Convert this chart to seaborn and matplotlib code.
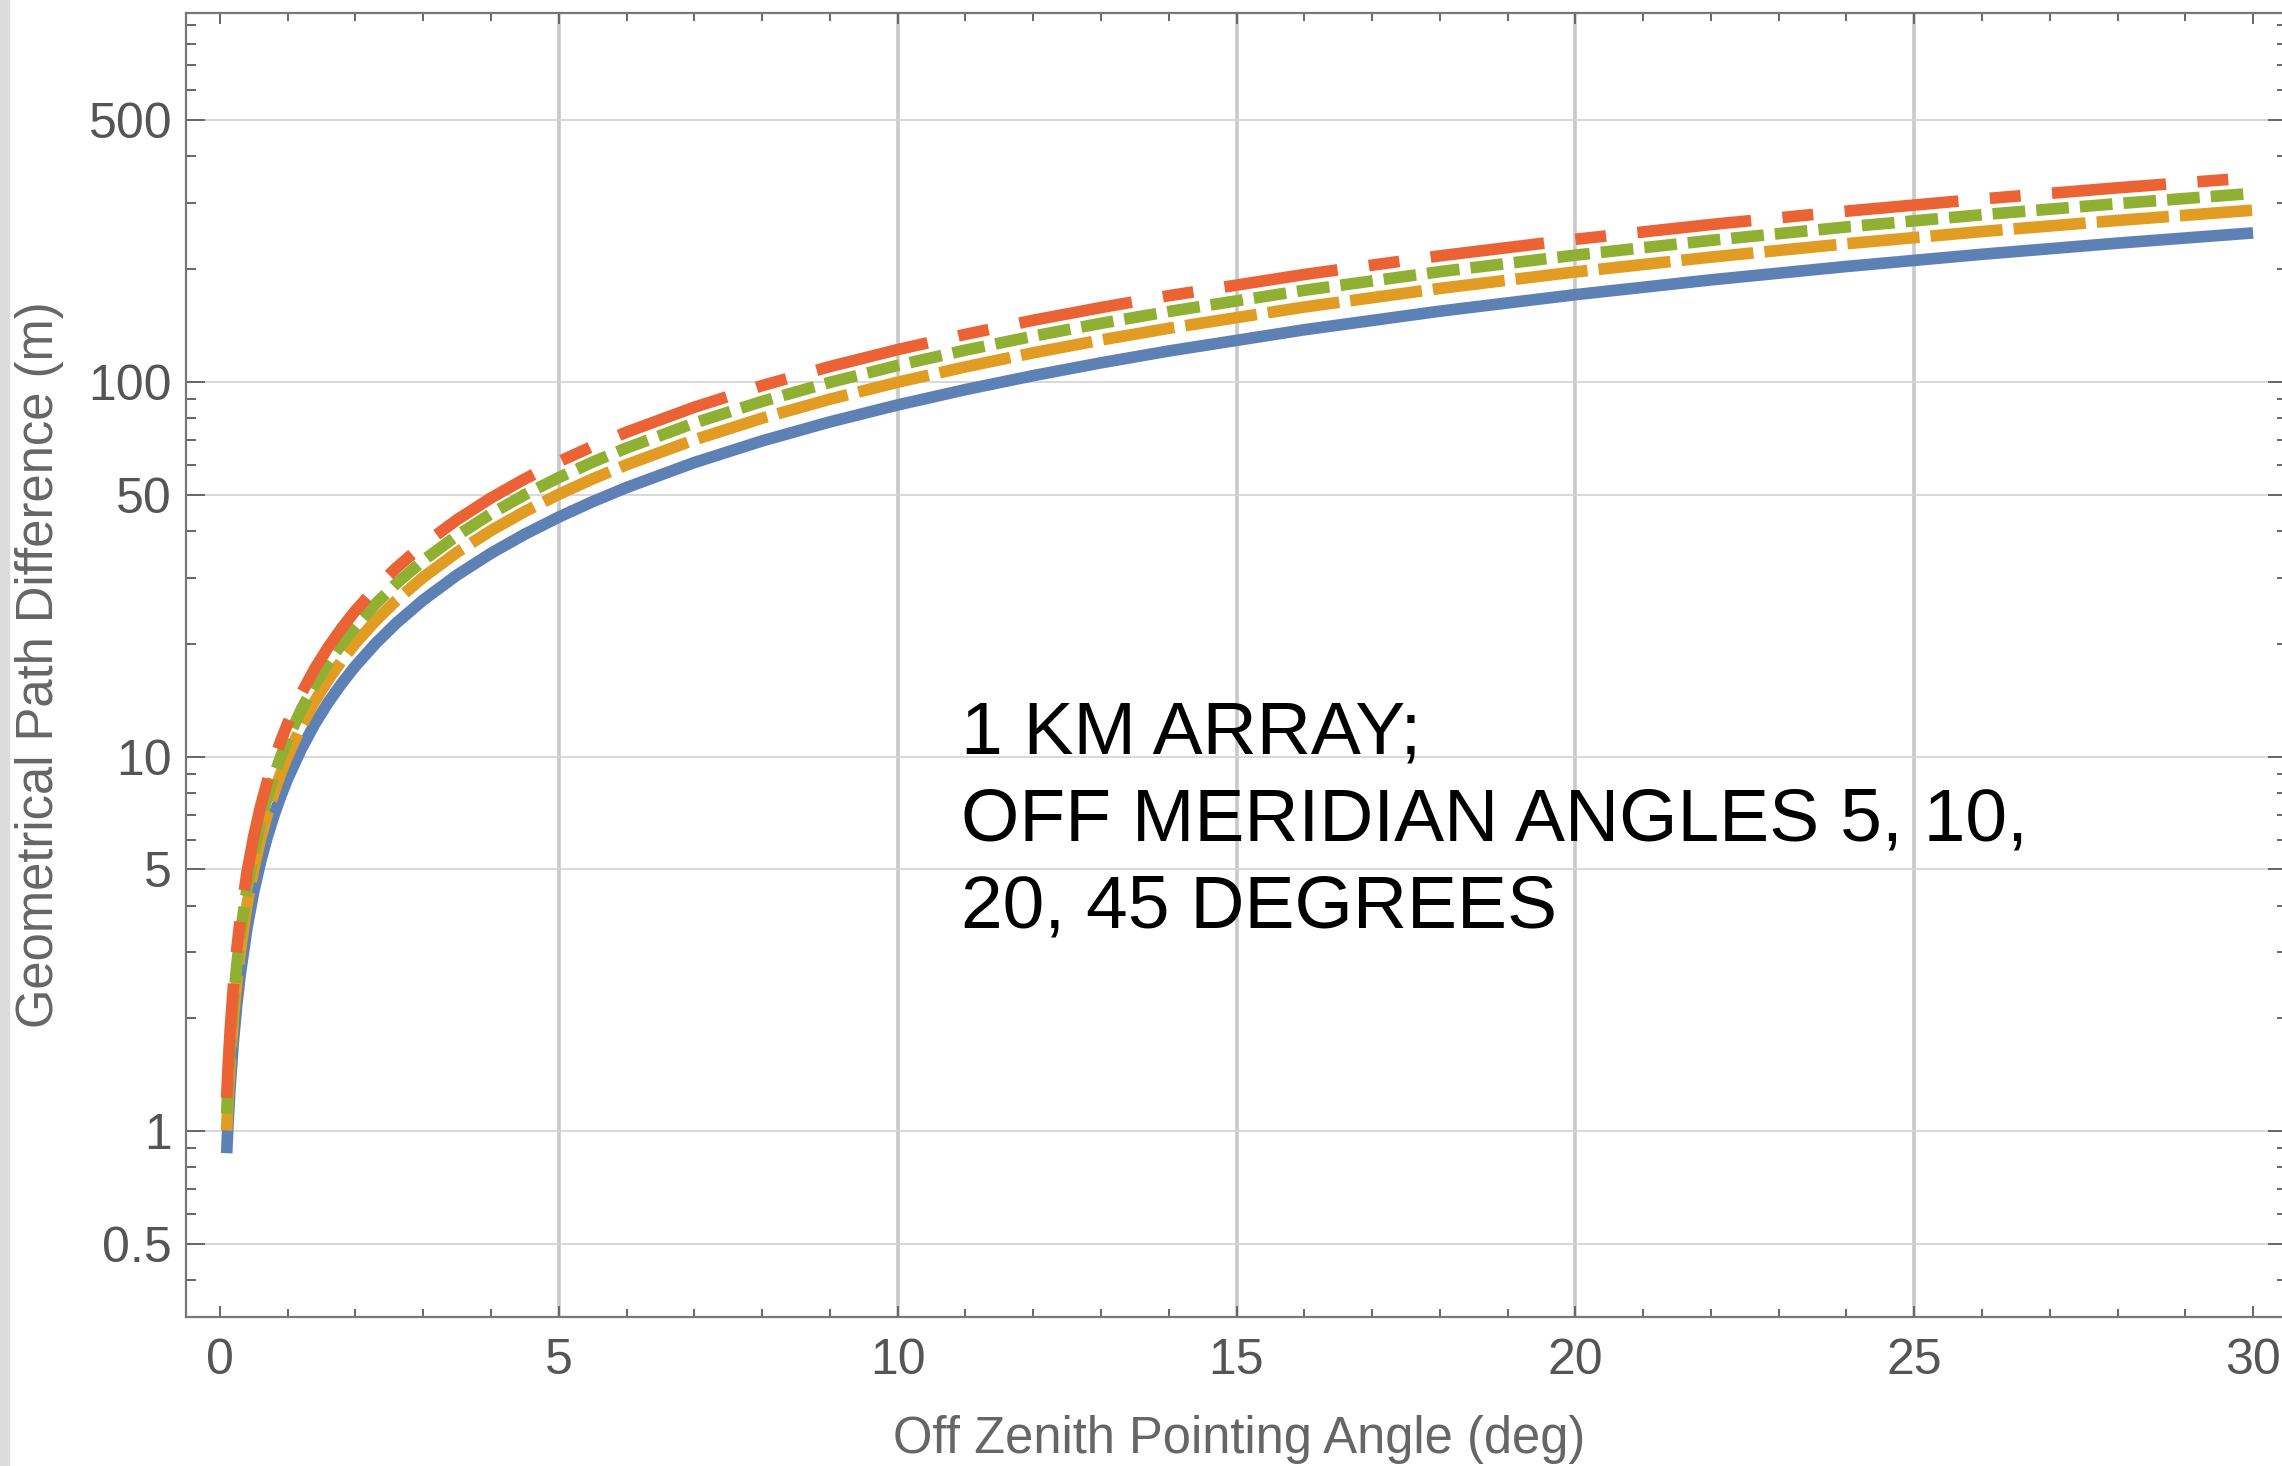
import numpy as np
import pandas as pd
import matplotlib
matplotlib.use("Agg")
import matplotlib.pyplot as plt
import seaborn as sns
from matplotlib.ticker import FixedLocator, NullFormatter
from matplotlib.patches import Rectangle

# ---- data ----
angle = [0.1, 0.12, 0.15, 0.2, 0.25, 0.3, 0.4, 0.5, 0.6, 0.7, 0.8, 0.9, 1.0, 1.2,
         1.4, 1.6, 1.8, 2.0, 2.3, 2.6, 3.0, 3.5, 4.0, 4.5, 5, 5.5, 6, 7, 8, 9, 10,
         11, 12, 13, 14, 16, 18, 20, 22, 24, 26, 28, 30]
path_5 = [0.873, 1.047, 1.309, 1.745, 2.182, 2.618, 3.491, 4.363, 5.236, 6.108,
          6.981, 7.853, 8.726, 10.47, 12.22, 13.96, 15.70, 17.45, 20.06, 22.68,
          26.17, 30.52, 34.88, 39.23, 43.58, 47.92, 52.26, 60.93, 69.59, 78.22,
          86.82, 95.40, 103.96, 112.48, 120.96, 137.82, 154.51, 171.01, 187.30,
          203.37, 219.19, 234.74, 250.0]
path_10 = [1.004, 1.204, 1.505, 2.007, 2.509, 3.011, 4.015, 5.017, 6.021, 7.024,
           8.028, 9.031, 10.03, 12.04, 14.05, 16.05, 18.06, 20.07, 23.07, 26.08,
           30.10, 35.10, 40.11, 45.11, 50.12, 55.11, 60.10, 70.07, 80.03, 89.95,
           99.84, 109.7, 119.6, 129.4, 139.1, 158.5, 177.7, 196.7, 215.4, 233.9,
           252.1, 269.9, 287.5]
path_20 = [1.113, 1.335, 1.669, 2.225, 2.782, 3.338, 4.451, 5.563, 6.676, 7.788,
           8.901, 10.01, 11.13, 13.35, 15.58, 17.80, 20.02, 22.25, 25.58, 28.92,
           33.37, 38.91, 44.47, 50.02, 55.56, 61.10, 66.63, 77.69, 88.73, 99.73,
           110.7, 121.6, 132.5, 143.4, 154.2, 175.7, 197.0, 218.0, 238.8, 259.3,
           279.5, 299.3, 318.8]
path_45 = [1.227, 1.471, 1.839, 2.452, 3.066, 3.678, 4.905, 6.130, 7.357, 8.582,
           9.808, 11.03, 12.26, 14.71, 17.17, 19.61, 22.06, 24.52, 28.18, 31.87,
           36.77, 42.88, 49.01, 55.12, 61.23, 67.33, 73.43, 85.61, 97.77, 109.9,
           122.0, 134.0, 146.1, 158.0, 169.9, 193.6, 217.1, 240.3, 263.2, 285.7,
           308.0, 329.8, 351.3]
series_names = ["5", "10", "20", "45"]

x_major = [0, 5, 10, 15, 20, 25, 30]
x_grid = [5, 10, 15, 20, 25]
y_major = [0.5, 1, 5, 10, 50, 100, 500]
y_major_labels = ["0.5", "1", "5", "10", "50", "100", "500"]
y_minor = [0.4, 0.6, 0.7, 0.8, 0.9, 2, 3, 4, 6, 7, 8, 9, 20, 30, 40, 60, 70, 80, 90,
           200, 300, 400, 600, 700, 800, 900]

note = "1 KM ARRAY;\nOFF MERIDIAN ANGLES 5, 10,\n20, 45 DEGREES"
xlabel = "Off Zenith Pointing Angle (deg)"
ylabel = "Geometrical Path Difference (m)"

# ---- table ----
frames = []
for name, vals in zip(series_names, [path_5, path_10, path_20, path_45]):
    frames.append(pd.DataFrame({"angle": angle, "path": vals, "series": name}))
df = pd.concat(frames, ignore_index=True)

# ---- style ----
sns.set_style("ticks")
plt.rcParams["font.family"] = ["Liberation Sans", "DejaVu Sans"]
plt.rcParams["lines.solid_capstyle"] = "butt"
plt.rcParams["lines.dash_capstyle"] = "butt"
plt.rcParams["lines.solid_joinstyle"] = "round"
plt.rcParams["lines.dash_joinstyle"] = "round"

W, H = 2282, 1466
fig = plt.figure(figsize=(W / 100, H / 100), dpi=100)
ax = fig.add_axes([186 / W, (H - 1317) / H, (2287 - 186) / W, (1317 - 13) / H])

palette = {"5": "#5E81B5", "10": "#E19C24", "20": "#8FB032", "45": "#EB6235"}
dashes = {"5": "", "10": (6.2, 0.95), "20": (2.8, 0.95), "45": (9.8, 2.7, 2.65, 2.7)}

sns.lineplot(data=df, x="angle", y="path", hue="series", style="series",
             hue_order=series_names, style_order=series_names,
             palette=palette, dashes=dashes, linewidth=8.4,
             estimator=None, sort=False, legend=False, ax=ax)

ax.set_yscale("log")
ax.set_xlim(-0.5, 30.5)
ax.set_ylim(0.319, 966)

for xv in x_grid:
    ax.axvline(xv, color="#c9c9c9", lw=2.6, zorder=0)

ax.yaxis.set_major_locator(FixedLocator(y_major))
ax.yaxis.set_minor_locator(FixedLocator(y_minor))
ax.set_yticklabels(y_major_labels)
ax.yaxis.set_minor_formatter(NullFormatter())
ax.yaxis.grid(True, which="major", color="#d6d6d6", lw=1.3, zorder=0)
ax.set_axisbelow(True)

ax.xaxis.set_major_locator(FixedLocator(x_major))
ax.xaxis.set_minor_locator(FixedLocator(list(range(0, 31))))
ax.set_xticklabels([str(v) for v in x_major])

ax.tick_params(axis="both", which="both", direction="in", top=True, right=True,
               color="#666666", width=1.4)
ax.tick_params(axis="x", which="major", length=8, labelsize=36, pad=15,
               labelcolor="#555555")
ax.tick_params(axis="x", which="minor", length=5.5)
ax.tick_params(axis="y", which="major", length=14, labelsize=36, pad=10,
               labelcolor="#555555")
ax.tick_params(axis="y", which="minor", length=7.5)

for s in ax.spines.values():
    s.set_color("#777777")
    s.set_linewidth(1.6)

ax.set_xlabel(xlabel, fontsize=36.5, color="#666666")
ax.set_ylabel(ylabel, fontsize=36.5, color="#666666")
ax.xaxis.set_label_coords((1239 - 186) / (2287 - 186), (1317 - 1439) / (1317 - 13))
ax.xaxis.label.set_va("center")
ax.yaxis.set_label_coords((40 - 186) / (2287 - 186), 0.5)
ax.yaxis.label.set_va("center")

fig.text(961 / W, 1 - 700 / H, note, fontsize=54, color="black", va="top",
         ha="left", linespacing=1.33)

fig.patches.append(Rectangle((0, 0), 9 / W, 1, transform=fig.transFigure,
                             color="#dcdcdc", zorder=-10))

fig.savefig("out.png", dpi=100)
